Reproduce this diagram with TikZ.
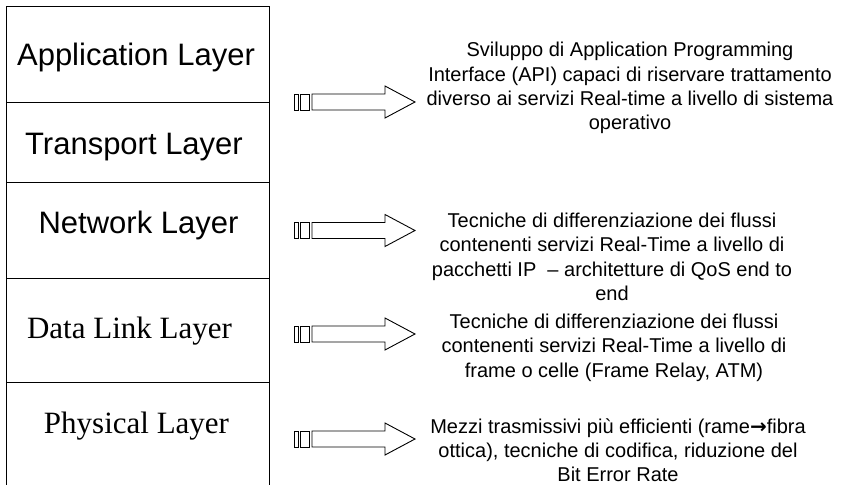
\documentclass[tikz,border=0pt]{standalone}
\usepackage{fontspec}
\setmainfont{Liberation Sans}
\newfontfamily\timesfont{Liberation Serif}
\newfontfamily\symfont{DejaVu Sans}
\begin{document}
\begin{tikzpicture}[
    x=1pt, y=-1pt,
    line width=0.9pt,
    layer/.style={anchor=base, inner sep=0pt, font=\fontsize{31}{37}\selectfont},
    serif layer/.style={layer, font=\timesfont\fontsize{31}{37}\selectfont},
    note/.style={anchor=north, align=center, inner sep=0pt, font=\fontsize{20}{24.3}\selectfont},
]
  \useasboundingbox (0,0) rectangle (855,485);

  % 协议栈
  \draw (6,490) -- (6,6) -- (269,6) -- (269,490);
  \foreach \y in {102,182,278,382}
    \draw (6,\y) -- (269,\y);

  \node[layer] (app) at (136,65) {Application Layer};
  \node[layer] (trans) at (134,154) {Transport Layer};
  \node[layer] (net) at (138.5,233) {Network Layer};
  \node[serif layer] (link) at (129.5,338) {Data Link Layer};
  \node[serif layer] (phys) at (136.5,433) {Physical Layer};

  % 箭头
  \foreach \c in {102,230.5,334,439} {
    \draw (294,\c-8) rectangle (298,\c+8);
    \draw (300,\c-8) rectangle (309.5,\c+8);
    \draw (312,\c-8) -- (385,\c-8) -- (385,\c-16) -- (415,\c)
      -- (385,\c+16) -- (385,\c+8) -- (312,\c+8) -- cycle;
  }

  % 说明文字
  \node[note] (napp) at (630,42) {Sviluppo di Application Programming\\
    Interface (API) capaci di riservare trattamento\\
    diverso ai servizi Real-time a livello di sistema\\
    operativo};
  \node[note] (nnet) at (612,212.5) {Tecniche di differenziazione dei flussi\\
    contenenti servizi Real-Time a livello di\\
    pacchetti IP\ \ – architetture di QoS end to\\
    end};
  \node[note] (nlink) at (614,313.5) {Tecniche di differenziazione dei flussi\\
    contenenti servizi Real-Time a livello di\\
    frame o celle (Frame Relay, ATM)};
  \node[note] (nphys) at (618,418) {Mezzi trasmissivi più efficienti (rame{\symfont\bfseries →}fibra\\
    ottica), tecniche di codifica, riduzione del\\
    Bit Error Rate};

\end{tikzpicture}
\end{document}
